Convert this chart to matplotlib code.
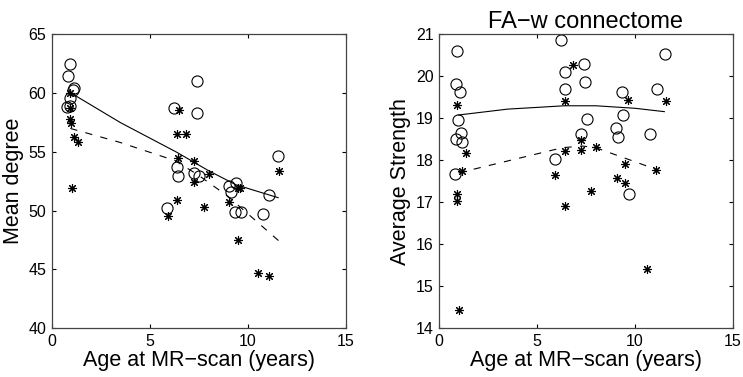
import matplotlib
matplotlib.use('Agg')
import matplotlib.pyplot as plt

plt.rcParams['font.family'] = ['Liberation Sans', 'DejaVu Sans']

# left panel: mean degree
deg_circ_x = [0.92, 0.85, 1.16, 1.11, 0.95, 0.78, 0.95, 7.43, 6.24, 7.43, 6.41, 6.43, 7.28, 7.5, 5.9,
              9.03, 9.39, 9.15, 9.36, 9.66, 10.79, 11.11, 11.54]
deg_circ_y = [62.5, 61.5, 60.45, 60.25, 59.55, 58.8, 58.9, 61.0, 58.7, 58.35, 53.75, 52.95, 53.2, 52.95, 50.25,
              52.1, 52.35, 51.6, 49.9, 49.9, 49.7, 51.3, 54.65]
deg_star_x = [0.95, 0.95, 0.95, 1.0, 1.16, 1.36, 1.02, 6.49, 6.41, 6.85, 6.43, 7.28, 7.28, 8.03, 6.41,
              7.76, 5.91, 9.03, 9.51, 9.63, 9.48, 10.53, 11.11, 11.59]
deg_star_y = [60.05, 58.7, 57.8, 57.5, 56.3, 55.85, 51.95, 58.6, 56.5, 56.5, 54.5, 54.2, 52.4, 53.1, 50.9,
              50.3, 49.55, 50.7, 51.9, 51.9, 47.5, 44.7, 44.45, 53.4]
deg_fit1_x = [0.95, 3.5, 6.4, 8.0, 9.4, 11.55]
deg_fit1_y = [60.05, 57.5, 54.95, 53.4, 52.2, 51.1]
deg_fit2_x = [0.95, 3.5, 6.3, 7.5, 9.0, 11.6]
deg_fit2_y = [57.0, 55.8, 54.25, 53.0, 51.2, 47.4]

# right panel: average strength
str_circ_x = [0.94, 0.85, 1.06, 0.96, 0.89, 1.14, 1.16, 0.8, 6.23, 6.42, 6.42, 7.41, 7.44, 7.56, 7.27, 5.9,
              9.35, 9.39, 9.04, 9.15, 9.68, 10.77, 11.11, 11.54]
str_circ_y = [20.6, 19.81, 19.64, 18.95, 18.51, 18.66, 18.43, 17.68, 20.88, 20.1, 19.7, 20.3, 19.86, 18.98, 18.62, 18.02,
              19.64, 19.08, 18.76, 18.56, 17.2, 18.62, 19.7, 20.54]
str_star_x = [0.94, 0.94, 0.94, 1.16, 1.37, 1.04, 6.84, 6.43, 6.43, 6.43, 5.92, 7.27, 7.27, 8.0, 7.78,
              9.06, 9.47, 9.47, 9.66, 11.09, 10.6, 11.6]
str_star_y = [19.31, 17.2, 17.02, 17.74, 18.18, 14.42, 20.27, 19.42, 18.22, 16.91, 17.65, 18.48, 18.25, 18.31, 17.27,
              17.57, 17.91, 17.47, 19.43, 17.76, 15.41, 19.42]
str_fit1_x = [1.0, 3.5, 6.4, 8.0, 10.0, 11.5]
str_fit1_y = [19.08, 19.22, 19.3, 19.3, 19.24, 19.16]
str_fit2_x = [1.0, 6.3, 7.3, 8.0, 11.1]
str_fit2_y = [17.7, 18.3, 18.34, 18.3, 17.78]

fig = plt.figure(figsize=(7.43, 3.77), dpi=100)
ax1 = fig.add_axes([0.0696, 0.130, 0.3957, 0.7785])
ax2 = fig.add_axes([0.5908, 0.130, 0.3957, 0.7785])


def draw(ax, cx, cy, sx, sy, f1x, f1y, f2x, f2y):
    ax.plot(cx, cy, 'o', mfc='none', mec='black', ms=8, mew=0.8)
    ax.plot(sx, sy, ls='none', marker=(8, 2, 0), color='black', ms=6.5, mew=0.8)
    ax.plot(f1x, f1y, '-', color='black', lw=0.8)
    ax.plot(f2x, f2y, '--', color='black', lw=0.8, dashes=(6.5, 7.5))
    ax.set_xlim(0, 15)
    ax.set_xticks([0, 5, 10, 15])
    ax.tick_params(direction='in', top=True, right=True, labelsize=11.5, length=3, pad=4)
    for s in ax.spines.values():
        s.set_color('#444444')
        s.set_linewidth(0.9)
    ax.set_xlabel('Age at MR\u2212scan (years)', fontsize=15.5, labelpad=1)


draw(ax1, deg_circ_x, deg_circ_y, deg_star_x, deg_star_y, deg_fit1_x, deg_fit1_y, deg_fit2_x, deg_fit2_y)
ax1.set_ylim(40, 65)
ax1.set_yticks([40, 45, 50, 55, 60, 65])
ax1.set_ylabel('Mean degree', fontsize=15.5, labelpad=3)

draw(ax2, str_circ_x, str_circ_y, str_star_x, str_star_y, str_fit1_x, str_fit1_y, str_fit2_x, str_fit2_y)
ax2.set_ylim(14, 21)
ax2.set_yticks([14, 15, 16, 17, 18, 19, 20, 21])
ax2.set_ylabel('Average Strength', fontsize=15.5, labelpad=3)
ax2.set_title('FA\u2212w connectome', fontsize=17, pad=5)

fig.savefig('out.png', dpi=100)
